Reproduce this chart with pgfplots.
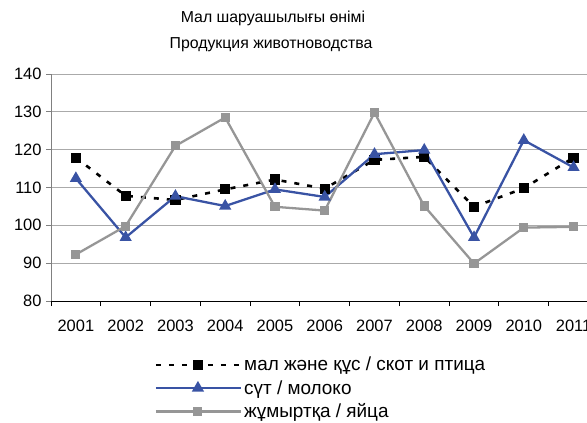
\documentclass[border=0pt]{standalone}
\usepackage{pgfplots}
\pgfplotsset{compat=1.18}
\usepackage{fontspec}
\setmainfont{Liberation Sans}
\definecolor{sblue}{RGB}{57,83,164}
\definecolor{sgray}{RGB}{150,150,150}
\definecolor{gridc}{RGB}{170,170,170}
\definecolor{yaxc}{RGB}{128,128,128}
\begin{document}
\begin{tikzpicture}
\useasboundingbox (0,0) rectangle (587bp,423bp);
\node[font=\fontsize{15.9}{18}\selectfont] at (273bp,405bp) {Мал шаруашылығы өнімі};
\node[font=\fontsize{15.9}{18}\selectfont] at (271bp,378bp) {Продукция животноводства};
\begin{axis}[
  at={(51bp,122bp)}, anchor=south west,
  scale only axis, width=536bp, height=227bp,
  xmin=-0.5, xmax=10.27, ymin=80, ymax=140,
  ytick={80,90,...,140},
  xtick={0,...,10},
  xticklabels={2001,2002,2003,2004,2005,2006,2007,2008,2009,2010,2011},
  minor xtick={-0.5,0.5,...,9.5},
  axis x line*=bottom, axis y line*=left,
  x axis line style={black,line width=0.9pt,-},
  y axis line style={yaxc,line width=0.9pt,-},
  major x tick style={draw=none},
  minor x tick style={black,line width=0.9pt},
  minor tick length=5bp,
  major tick length=5bp,
  y tick style={yaxc,line width=0.9pt},
  xtick pos=bottom, ytick pos=left,
  tick align=outside,
  ymajorgrids, major grid style={gridc,line width=1pt},
  /pgf/number format/assume math mode=true,
  ticklabel style={font=\fontsize{16.5}{18}\selectfont},
  xticklabel style={yshift=-11bp},
  yticklabel style={xshift=-1bp},
  clip=false,
  legend style={at={(0.193,-0.238)}, anchor=north west, draw=none, fill=none,
    font=\fontsize{19}{21}\selectfont, row sep=4bp, cells={anchor=west},
    inner sep=0pt},
  legend image code/.code={\draw[mark repeat=2,mark phase=2,#1] plot coordinates {(0bp,0bp) (42bp,0bp) (85bp,0bp)};},
]
\addplot[black, line width=2.6pt, dash pattern=on 5bp off 8bp, mark=square*, mark size=3.8bp, mark options={solid}]
 coordinates {(0,117.9) (1,107.8) (2,106.7) (3,109.5) (4,112.1) (5,109.7) (6,117.3) (7,118.1) (8,104.9) (9,109.8) (10,117.9)};
\addlegendentry{мал және құс / скот и птица}
\addplot[sblue, line width=2.3pt, mark=triangle*, mark size=4.8bp, mark options={solid}]
 coordinates {(0,112.4) (1,96.8) (2,107.7) (3,105.1) (4,109.5) (5,107.5) (6,118.8) (7,119.9) (8,96.8) (9,122.5) (10,115.3)};
\addlegendentry{сүт / молоко}
\addplot[sgray, line width=2.3pt, mark=square*, mark size=3.4bp, mark options={solid}]
 coordinates {(0,92.3) (1,99.8) (2,121.0) (3,128.5) (4,104.9) (5,103.9) (6,129.8) (7,105.1) (8,89.9) (9,99.4) (10,99.6)};
\addlegendentry{жұмыртқа / яйца}
\end{axis}
\end{tikzpicture}
\end{document}
